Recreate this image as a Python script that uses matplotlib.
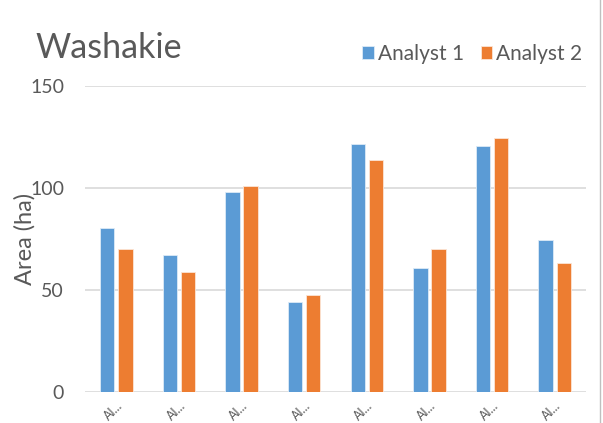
import numpy as np
import matplotlib.pyplot as plt
from matplotlib.lines import Line2D

plt.rcParams['font.family'] = ['Lato', 'DejaVu Sans']

# data
sites = ['Al...'] * 8
analyst1 = [80.4, 67, 98, 44, 121.5, 61, 120.6, 74.5]
analyst2 = [70, 58.8, 101, 47.5, 113.7, 70, 124.5, 63]
yticks = [0, 50, 100, 150]

blue = '#5B9BD5'
orange = '#ED7D31'
grey = '#595959'

fig = plt.figure(figsize=(6.03, 4.23), dpi=100)
ax = fig.add_axes([85/603, 31/423, 501/603, 306/423])

x = np.arange(len(sites))
w = 0.23
ax.bar(x - 0.145, analyst1, w, color=blue, edgecolor='#DDEBF7', linewidth=0.6, label='Analyst 1', zorder=3)
ax.bar(x + 0.145, analyst2, w, color=orange, edgecolor='#FBE5D6', linewidth=0.6, label='Analyst 2', zorder=3)

ax.set_xlim(-0.5, len(sites) - 0.5)
ax.set_ylim(0, 150)
ax.set_yticks(yticks)
ax.set_yticklabels([str(t) for t in yticks], fontsize=14, color=grey)
ax.yaxis.grid(True, color='#D9D9D9', linewidth=1.2, zorder=0)
ax.set_axisbelow(True)
for s in ax.spines.values():
    s.set_visible(False)
ax.tick_params(axis='both', length=0)
ax.tick_params(axis='y', pad=15)

ax.set_xticks(x)
ax.set_xticklabels(sites, rotation=45, ha='right', rotation_mode='anchor', fontsize=9, color=grey)
ax.tick_params(axis='x', pad=5)

ax.set_ylabel('Area (ha)', fontsize=17, color=grey, labelpad=-4)

fig.text(35/603, 1 - 48/423, 'Washakie', fontsize=24.5, color=grey, va='center', ha='left')
ax.legend(loc='lower right', bbox_to_anchor=(1.03, 1.01), ncol=2, frameon=False,
          fontsize=15, handlelength=0.55, handleheight=0.6, handletextpad=0.2,
          columnspacing=0.8, labelcolor=grey)

fig.add_artist(Line2D([600/603, 600/603], [0, 1], color='#BFBFBF', linewidth=1))

fig.savefig('out.png', dpi=100)
